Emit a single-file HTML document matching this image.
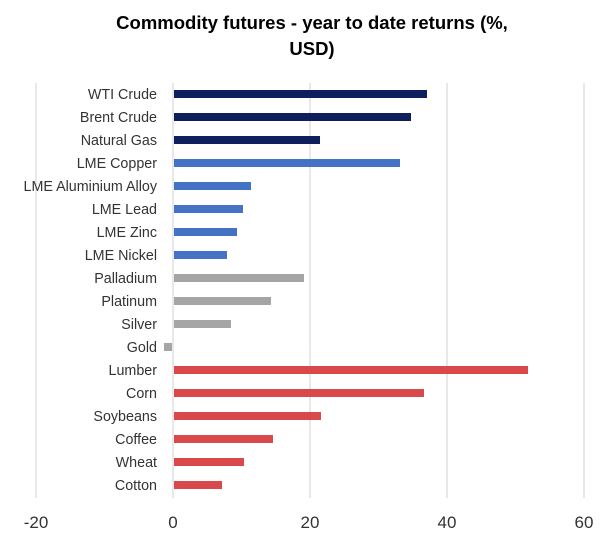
<!DOCTYPE html>
<html><head><style>
body{margin:0;background:#fff;}
svg text{font-family:"Liberation Sans",sans-serif;}
</style></head><body>
<svg width="614" height="551" xmlns="http://www.w3.org/2000/svg">
<rect width="614" height="551" fill="#fff"/>
<text x="312" y="29" text-anchor="middle" font-size="18.5" font-weight="bold" fill="#000">Commodity futures - year to date returns (%,</text>
<text x="312" y="55" text-anchor="middle" font-size="18.5" font-weight="bold" fill="#000">USD)</text>
<g stroke="#d9d9d9" stroke-width="1.2">
<line x1="36" y1="83" x2="36" y2="498"/>
<line x1="310" y1="83" x2="310" y2="498"/>
<line x1="447" y1="83" x2="447" y2="498"/>
<line x1="584" y1="83" x2="584" y2="498"/>
<line x1="173" y1="83" x2="173" y2="498"/>
</g>
<g font-size="14.3" fill="#333" text-anchor="end">
<text x="157" y="99">WTI Crude</text>
<text x="157" y="122">Brent Crude</text>
<text x="157" y="145">Natural Gas</text>
<text x="157" y="168">LME Copper</text>
<text x="157" y="191">LME Aluminium Alloy</text>
<text x="157" y="214">LME Lead</text>
<text x="157" y="237">LME Zinc</text>
<text x="157" y="260">LME Nickel</text>
<text x="157" y="283">Palladium</text>
<text x="157" y="306">Platinum</text>
<text x="157" y="329">Silver</text>
<text x="157" y="352">Gold</text>
<text x="157" y="375">Lumber</text>
<text x="157" y="398">Corn</text>
<text x="157" y="421">Soybeans</text>
<text x="157" y="444">Coffee</text>
<text x="157" y="467">Wheat</text>
<text x="157" y="490">Cotton</text>
</g>
<g>
<rect x="174" y="90" width="253" height="8" fill="#0e1f5b"/>
<rect x="174" y="113" width="237" height="8" fill="#0e1f5b"/>
<rect x="174" y="136" width="146" height="8" fill="#0e1f5b"/>
<rect x="174" y="159" width="226" height="8" fill="#4472c4"/>
<rect x="174" y="182" width="77" height="8" fill="#4472c4"/>
<rect x="174" y="205" width="69" height="8" fill="#4472c4"/>
<rect x="174" y="228" width="63" height="8" fill="#4472c4"/>
<rect x="174" y="251" width="53" height="8" fill="#4472c4"/>
<rect x="174" y="274" width="130" height="8" fill="#a5a5a5"/>
<rect x="174" y="297" width="97" height="8" fill="#a5a5a5"/>
<rect x="174" y="320" width="57" height="8" fill="#a5a5a5"/>
<rect x="164" y="343" width="8" height="8" fill="#a5a5a5"/>
<rect x="174" y="366" width="354" height="8" fill="#d9484a"/>
<rect x="174" y="389" width="250" height="8" fill="#d9484a"/>
<rect x="174" y="412" width="147" height="8" fill="#d9484a"/>
<rect x="174" y="435" width="99" height="8" fill="#d9484a"/>
<rect x="174" y="458" width="70" height="8" fill="#d9484a"/>
<rect x="174" y="481" width="48" height="8" fill="#d9484a"/>
</g>
<g font-size="17" fill="#333" text-anchor="middle">
<text x="36" y="528">-20</text>
<text x="173" y="528">0</text>
<text x="310" y="528">20</text>
<text x="447" y="528">40</text>
<text x="584" y="528">60</text>
</g>
</svg>
</body></html>
